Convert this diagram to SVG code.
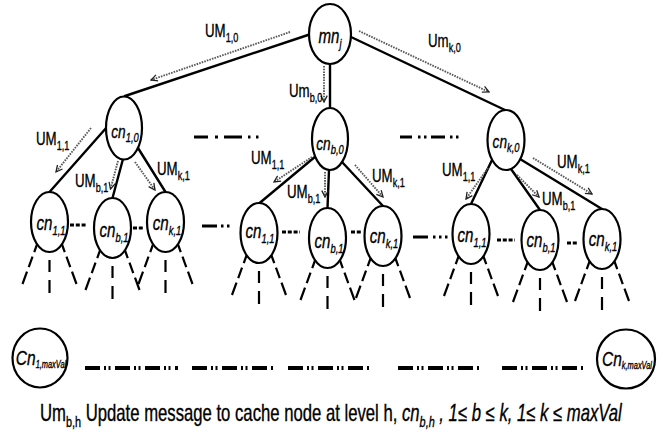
<svg xmlns="http://www.w3.org/2000/svg" width="669" height="434" viewBox="0 0 669 434">
  <style>
    .node ellipse { fill: #fff; stroke: #000; stroke-width: 2.2; }
    .edge { stroke: #000; stroke-width: 2.4; fill: none; stroke-linecap: round; }
    .msg { stroke: #5a5a5a; stroke-width: 1.9; stroke-dasharray: 1.6 1.1; fill: none; marker-end: url(#ah); }
    text { stroke: #000; stroke-width: .35px; fill: #000; }
    .lbl { font-family: "Liberation Sans", Arial, sans-serif; font-size: 19px; }
    .sub { font-size: 13px; }
    .nl { font-family: "Liberation Sans", Arial, sans-serif; font-style: italic; font-size: 21px; text-anchor: middle; }
    .nl0 { font-size: 19px; }
    .ns { font-size: 13px; }
    .nsm { font-size: 10px; }
    .dd { stroke: #000; stroke-width: 3; fill: none; }
    .sd { stroke: #000; stroke-width: 3; fill: none; stroke-dasharray: 4 1.8; }
    .bd { stroke: #000; stroke-width: 4; fill: none; stroke-dasharray: 15 4 2 2.5 2 4.5; }
    .fl { stroke: #000; stroke-width: 2.2; }
    .cap { font-family: "Liberation Sans", Arial, sans-serif; font-size: 23px; }
    .capsub { font-size: 15px; }
  </style>
  <defs>
    <marker id="ah" viewBox="0 0 10 10" refX="9" refY="5" markerWidth="8" markerHeight="8" markerUnits="userSpaceOnUse" orient="auto">
      <path d="M1,1 L9,5 L1,9" fill="none" stroke="#222" stroke-width="1.6"/>
    </marker>
    <!-- three dashed branches hanging below a level-1 node -->
    <g id="fan">
      <line class="fl" x1="-12.5" y1="22.5" x2="-27" y2="62" stroke-dasharray="8 5 11 5 14"/>
      <line class="fl" x1="0" y1="38" x2="0" y2="71" stroke-dasharray="12 8 14"/>
      <line class="fl" x1="12.5" y1="22.5" x2="27" y2="62" stroke-dasharray="8 5 11 5 14"/>
    </g>
  </defs>

  <g id="connectors">
    <!-- tree edges -->
    <path class="edge" d="M308,35 L125,96"/>
    <path class="edge" d="M330,64 L330,108"/>
    <path class="edge" d="M351,37 L505,110"/>
    <path class="edge" d="M107,127 L49.5,192"/>
    <path class="edge" d="M123,159 L112.5,198"/>
    <path class="edge" d="M138,148 L165.5,192"/>
    <path class="edge" d="M316,156 L259,203.5"/>
    <path class="edge" d="M329,170 L327.5,208"/>
    <path class="edge" d="M342,162 L383,206"/>
    <path class="edge" d="M492,160 L471,204"/>
    <path class="edge" d="M511,169 L540,210"/>
    <path class="edge" d="M520,159 L602,209"/>
    <!-- update messages -->
    <path class="msg" d="M290,32 L151,80"/>
    <path class="msg" d="M359,31 L489,92"/>
    <path class="msg" d="M324,66 L324,102"/>
    <path class="msg" d="M91,128 L56,172"/>
    <path class="msg" d="M118,161 L110.5,189"/>
    <path class="msg" d="M135,162 L155,190"/>
    <path class="msg" d="M312,157 L274,182"/>
    <path class="msg" d="M325,172 L325,197"/>
    <path class="msg" d="M355,165 L383,197"/>
    <path class="msg" d="M488,168 L466,199"/>
    <path class="msg" d="M517,175 L539,197"/>
    <path class="msg" d="M533,158 L592,194"/>
    <!-- message labels -->
    <text class="lbl" transform="translate(205 37) scale(.7 1)">UM<tspan class="sub" dy="5">1,0</tspan></text>
    <text class="lbl" transform="translate(428 47) scale(.7 1)">Um<tspan class="sub" dy="5">k,0</tspan></text>
    <text class="lbl" transform="translate(289 97) scale(.7 1)">Um<tspan class="sub" dy="5">b,0</tspan></text>
    <text class="lbl" transform="translate(36 145) scale(.7 1)">UM<tspan class="sub" dy="5">1,1</tspan></text>
    <text class="lbl" transform="translate(75 187) scale(.7 1)">UM<tspan class="sub" dy="5">b,1</tspan></text>
    <text class="lbl" transform="translate(157 175) scale(.7 1)">UM<tspan class="sub" dy="5">k,1</tspan></text>
    <text class="lbl" transform="translate(251 164) scale(.7 1)">UM<tspan class="sub" dy="5">1,1</tspan></text>
    <text class="lbl" transform="translate(287 198) scale(.7 1)">UM<tspan class="sub" dy="5">b,1</tspan></text>
    <text class="lbl" transform="translate(372 182) scale(.7 1)">UM<tspan class="sub" dy="5">k,1</tspan></text>
    <text class="lbl" transform="translate(442 176) scale(.7 1)">UM<tspan class="sub" dy="5">1,1</tspan></text>
    <text class="lbl" transform="translate(557 168) scale(.7 1)">UM<tspan class="sub" dy="5">k,1</tspan></text>
    <text class="lbl" transform="translate(542 205) scale(.7 1)">UM<tspan class="sub" dy="5">b,1</tspan></text>
  </g>

  <!-- elided siblings and deeper levels -->
  <g id="ellipses">
    <path class="dd" d="M194,137h14 M215,137h3 M224,137h18 M248,137h2.5 M256,137h2.5"/>
    <path class="dd" d="M400,137h12 M418,137h2.5 M424,137h2.5 M431,137h14 M450,137h2.5 M456,137h2.5"/>
    <path class="dd" d="M202,226h15 M221,226h2.5 M227,226h2.5"/>
    <path class="dd" d="M413,237h15 M433,237h2.5 M439,237h2.5 M445,237h2.5"/>
    <path class="sd" d="M70,225h16"/>
    <path class="sd" d="M133,228h11"/>
    <path class="sd" d="M282,232h18"/>
    <path class="sd" d="M351,232h11"/>
    <path class="sd" d="M497,240h18"/>
    <path class="sd" d="M567,243h11"/>
    <path class="bd" d="M85,368h93"/>
    <path class="bd" d="M192,368h83"/>
    <path class="bd" d="M288,368h83"/>
    <path class="bd" d="M398,368h83"/>
    <path class="bd" d="M502,368h83"/>
    <use href="#fan" x="49.5" y="222"/>
    <use href="#fan" x="112.5" y="228"/>
    <use href="#fan" x="165.5" y="222"/>
    <use href="#fan" x="259" y="233"/>
    <use href="#fan" x="327.5" y="238"/>
    <use href="#fan" x="383" y="236"/>
    <use href="#fan" x="471" y="234"/>
    <use href="#fan" x="540" y="240"/>
    <use href="#fan" x="602" y="239"/>
  </g>

  <g id="mn-j" class="node">
    <ellipse cx="330" cy="34" rx="21" ry="30"/>
    <text class="nl" transform="translate(330 43) scale(.72 1)">mn<tspan class="ns" dy="5">j</tspan></text>
  </g>

  <g id="cn-1-0" class="node">
    <ellipse cx="124" cy="128" rx="18" ry="31.5"/>
    <text class="nl nl0" transform="translate(125 138) scale(.72 1)">cn<tspan class="ns" dy="4">1,0</tspan></text>
  </g>
  <g id="cn-b-0" class="node">
    <ellipse cx="330" cy="139" rx="18" ry="31"/>
    <text class="nl nl0" transform="translate(330 150) scale(.72 1)">cn<tspan class="ns" dy="4">b,0</tspan></text>
  </g>
  <g id="cn-k-0" class="node">
    <ellipse cx="506" cy="140" rx="18.5" ry="30"/>
    <text class="nl nl0" transform="translate(506 148) scale(.72 1)">cn<tspan class="ns" dy="4">k,0</tspan></text>
  </g>

  <g id="cn-1-1-a" class="node">
    <ellipse cx="49.5" cy="222" rx="18.5" ry="30"/>
    <text class="nl" transform="translate(51 230) scale(.72 1)">cn<tspan class="ns" dy="5">1,1</tspan></text>
  </g>
  <g id="cn-b-1-a" class="node">
    <ellipse cx="112.5" cy="228" rx="18.5" ry="30"/>
    <text class="nl" transform="translate(114 237) scale(.72 1)">cn<tspan class="ns" dy="5">b,1</tspan></text>
  </g>
  <g id="cn-k-1-a" class="node">
    <ellipse cx="165.5" cy="222" rx="18.5" ry="30"/>
    <text class="nl" transform="translate(167 230) scale(.72 1)">cn<tspan class="ns" dy="5">k,1</tspan></text>
  </g>

  <g id="cn-1-1-b" class="node">
    <ellipse cx="259" cy="233" rx="18.5" ry="30"/>
    <text class="nl" transform="translate(260 238) scale(.72 1)">cn<tspan class="ns" dy="5">1,1</tspan></text>
  </g>
  <g id="cn-b-1-b" class="node">
    <ellipse cx="327.5" cy="238" rx="18.5" ry="30"/>
    <text class="nl" transform="translate(329 248) scale(.72 1)">cn<tspan class="ns" dy="5">b,1</tspan></text>
  </g>
  <g id="cn-k-1-b" class="node">
    <ellipse cx="383" cy="236" rx="18.5" ry="30"/>
    <text class="nl" transform="translate(384 243) scale(.72 1)">cn<tspan class="ns" dy="5">k,1</tspan></text>
  </g>

  <g id="cn-1-1-c" class="node">
    <ellipse cx="471" cy="234" rx="18.5" ry="30"/>
    <text class="nl" transform="translate(472 242) scale(.72 1)">cn<tspan class="ns" dy="5">1,1</tspan></text>
  </g>
  <g id="cn-b-1-c" class="node">
    <ellipse cx="540" cy="240" rx="18.5" ry="30"/>
    <text class="nl" transform="translate(541 247) scale(.72 1)">cn<tspan class="ns" dy="5">b,1</tspan></text>
  </g>
  <g id="cn-k-1-c" class="node">
    <ellipse cx="602" cy="239" rx="18.5" ry="30"/>
    <text class="nl" transform="translate(603 246) scale(.72 1)">cn<tspan class="ns" dy="5">k,1</tspan></text>
  </g>

  <g id="cn-1-maxval" class="node">
    <ellipse cx="40" cy="358" rx="27.5" ry="29.5"/>
    <text class="nl" transform="translate(41 365) scale(.74 1)">Cn<tspan class="nsm" dy="3">1,maxVal</tspan></text>
  </g>
  <g id="cn-k-maxval" class="node">
    <ellipse cx="626" cy="359" rx="29" ry="29.5"/>
    <text class="nl" transform="translate(627 366) scale(.74 1)">Cn<tspan class="nsm" dy="3">k,maxVal</tspan></text>
  </g>

  <text class="cap" transform="translate(40 421) scale(.726 1)">Um<tspan class="capsub" dy="6">b,h</tspan><tspan dy="-6"> Update message to cache node at level h, </tspan><tspan font-style="italic">cn</tspan><tspan class="capsub" font-style="italic" dy="6">b,h</tspan><tspan font-style="italic" dy="-6"> , 1≤ b ≤ k, 1≤ k ≤ maxVal</tspan></text>
</svg>
